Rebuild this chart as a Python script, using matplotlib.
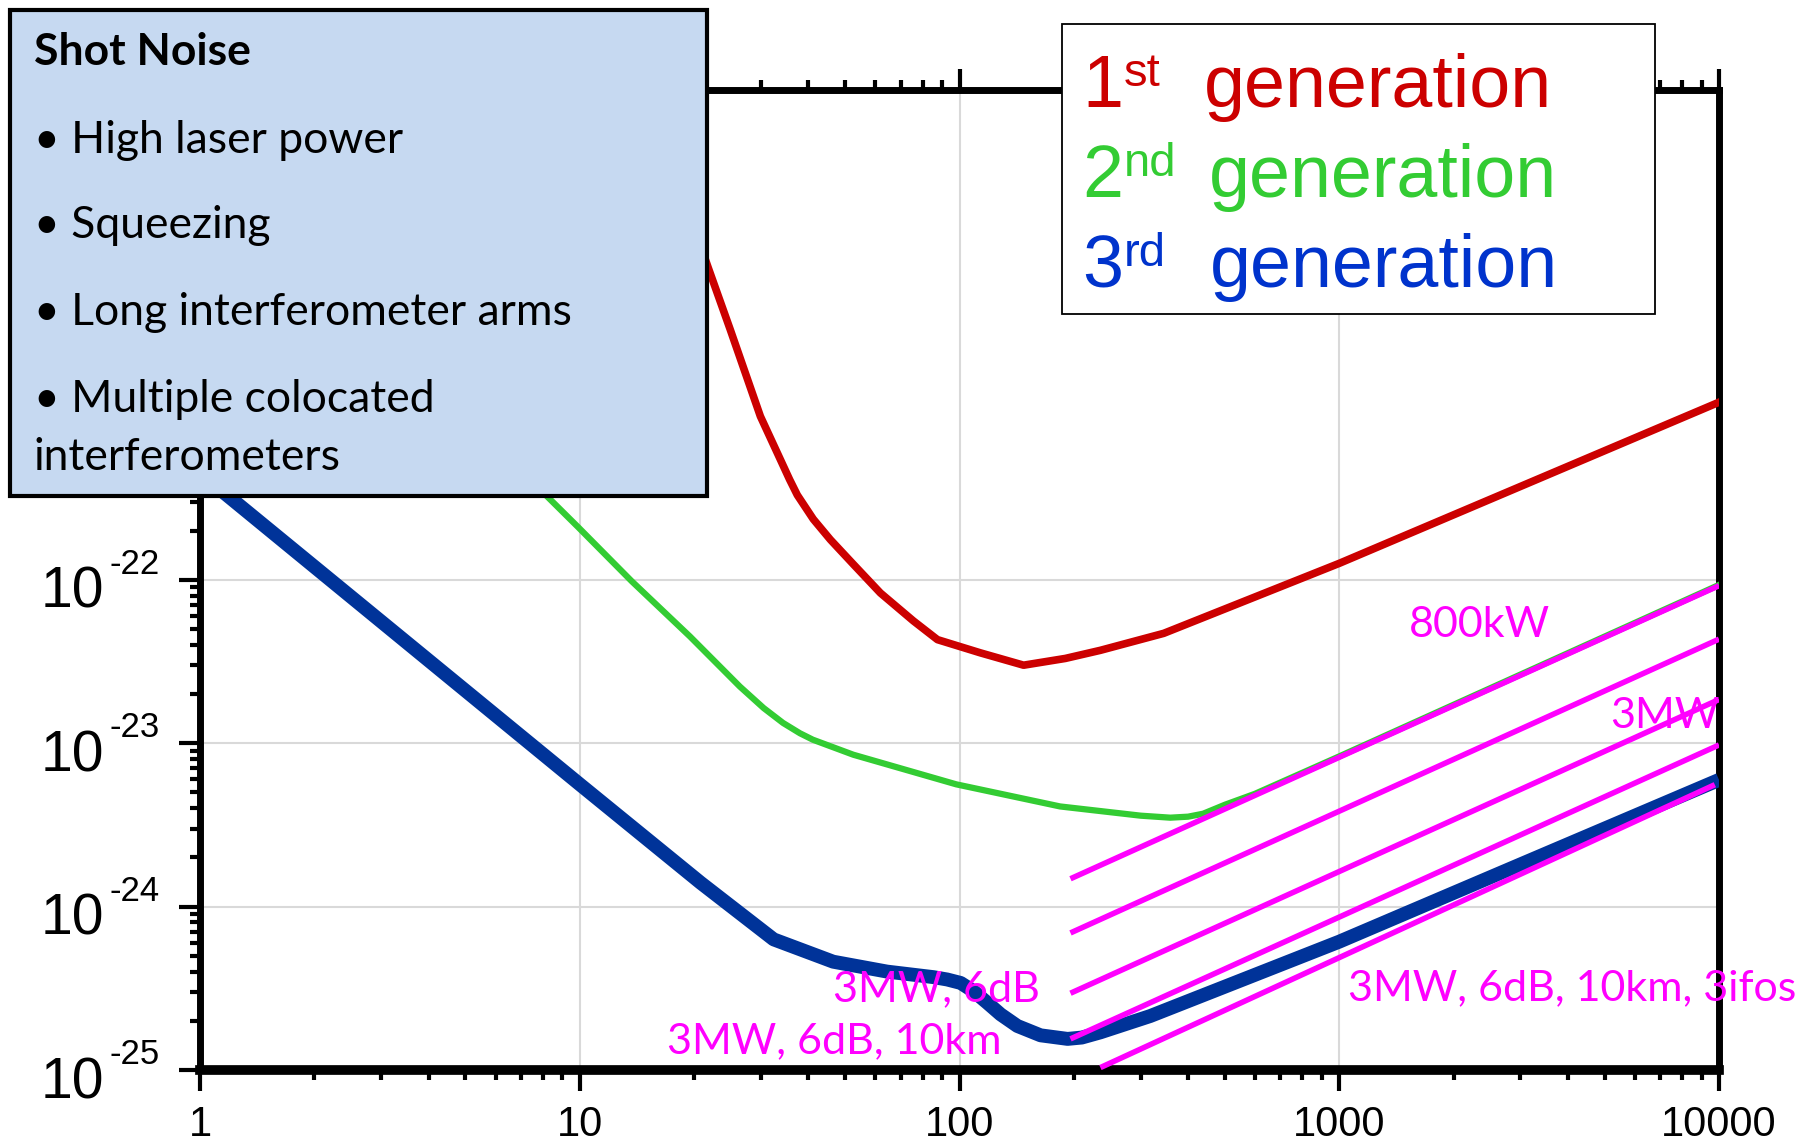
import numpy as np
import matplotlib.pyplot as plt
from matplotlib.patches import Rectangle
from matplotlib.ticker import NullFormatter, LogLocator

plt.rcParams['font.family'] = ['Liberation Sans', 'DejaVu Sans']

# strain sensitivity curves (frequency in Hz, ASD in 1/sqrt(Hz))
f_1st = [15, 21.8, 24.9, 29.9, 33.8, 35.7, 37.4, 41.2, 45.7, 52.6, 61.9, 75.6, 87.5, 113.5, 147.5,
         190, 235, 345, 1000, 10000]
h_1st = [1.0e-19, 8.1e-21, 3.4e-21, 1.0e-21, 5.4e-22, 4.1e-22, 3.3e-22, 2.35e-22, 1.76e-22, 1.24e-22,
         8.3e-23, 5.6e-23, 4.3e-23, 3.57e-23, 3.0e-23, 3.3e-23, 3.7e-23, 4.7e-23, 1.26e-22, 1.22e-21]

f_2nd = [1.0, 8.2, 9.9, 13.7, 19.5, 26.4, 30.5, 34.3, 38, 41.1, 52.5, 98, 184, 300, 359, 400, 438,
         500, 600, 1000, 10000]
h_2nd = [4.0e-20, 3.24e-22, 2.1e-22, 9.8e-23, 4.5e-23, 2.22e-23, 1.64e-23, 1.33e-23, 1.15e-23, 1.05e-23,
         8.5e-24, 5.6e-24, 4.1e-24, 3.6e-24, 3.5e-24, 3.55e-24, 3.7e-24, 4.2e-24, 4.9e-24, 8.3e-24, 9.3e-23]

f_3rd = [1.0, 10, 20.8, 32.4, 46.5, 64.5, 85.4, 92.8, 100.7, 109, 118.3, 128.3, 142, 163.5, 192.6,
         210, 235, 318, 1000, 2880, 10000]
h_3rd = [4.5e-22, 5.6e-24, 1.4e-24, 6.3e-25, 4.6e-25, 4.0e-25, 3.7e-25, 3.58e-25, 3.41e-25, 3.03e-25,
         2.58e-25, 2.19e-25, 1.86e-25, 1.63e-25, 1.55e-25, 1.58e-25, 1.7e-25, 2.14e-25, 6.1e-25,
         1.74e-24, 5.96e-24]

# shot-noise limited lines: (f_start, f_end), (h_start, h_end)
shot_f = [(196, 10000), (196, 10000), (196, 10000), (196, 10000), (235, 9750)]
shot_h = [(1.48e-24, 9.2e-23), (6.9e-25, 4.33e-23), (2.95e-25, 1.85e-23),
          (1.55e-25, 9.75e-24), (1.035e-25, 5.57e-24)]

shot_labels = ["800kW", "3MW", "3MW, 6dB", "3MW, 6dB, 10km", "3MW, 6dB, 10km, 3ifos"]

xticks = [1, 10, 100, 1000, 10000]
xlabels = ["1", "10", "100", "1000", "10000"]
yticks = [1e-25, 1e-24, 1e-23, 1e-22]
yexps = ["-25", "-24", "-23", "-22"]

box_title = "Shot Noise"
box_items = ["\u2022 High laser power", "\u2022 Squeezing", "\u2022 Long interferometer arms",
             "\u2022 Multiple colocated", "interferometers"]

gen_num = ["1", "2", "3"]
gen_sup = ["st", "nd", "rd"]
gen_colors = ["#CC0000", "#33CC33", "#0033CC"]

W, H = 1818, 1147


def px(x, y):
    return x / W, 1 - y / H


fig = plt.figure(figsize=(W / 100, H / 100), dpi=100)
ax = fig.add_axes([200 / W, 1 - 1070 / H, (1719 - 200) / W, (1070 - 89.5) / H])

ax.loglog(f_1st, h_1st, color="#CC0000", lw=5.5, solid_joinstyle='round', zorder=3)
ax.loglog(f_2nd, h_2nd, color="#33CC33", lw=4.5, solid_joinstyle='round', zorder=3)
ax.loglog(f_3rd, h_3rd, color="#003399", lw=10, solid_joinstyle='round', solid_capstyle='butt', zorder=3)
for fs, hs in zip(shot_f, shot_h):
    ax.loglog(fs, hs, color="#FF00FF", lw=4, solid_capstyle='butt', zorder=4)

ax.set_xlim(1, 10000)
ax.set_ylim(1e-25, 1e-19)
ax.set_xticks(xticks)
ax.set_xticklabels(xlabels)
ax.set_yticks(yticks)
ax.xaxis.set_minor_locator(LogLocator(subs=range(2, 10)))
ax.yaxis.set_minor_locator(LogLocator(subs=range(2, 10)))
ax.xaxis.set_minor_formatter(NullFormatter())
ax.yaxis.set_minor_formatter(NullFormatter())

ax.tick_params(which='both', direction='out', top=True, right=False, width=3)
ax.tick_params(which='major', length=15)
ax.tick_params(which='minor', length=7)
ax.tick_params(axis='x', labelsize=30, pad=10)
ax.tick_params(axis='y', labelleft=False)

# y labels: "10" with a small raised exponent
for v, e in zip(yticks, yexps):
    ax.annotate("10", xy=(0, v), xycoords=('axes fraction', 'data'), xytext=(-68.8, -20.2),
                textcoords='offset points', fontsize=41, ha='right', va='baseline',
                annotation_clip=False)
    ax.annotate(e, xy=(0, v), xycoords=('axes fraction', 'data'), xytext=(-65, 4.3),
                textcoords='offset points', fontsize=25, ha='left', va='baseline',
                annotation_clip=False)

ax.grid(True, which='major', color='#D9D9D9', lw=1.5)
ax.set_axisbelow(True)
for side in ['left', 'top', 'right']:
    ax.spines[side].set_linewidth(5)
ax.spines['bottom'].set_linewidth(7)

# labels for the shot noise lines
lab_pos = [(1409, 637), (1610, 728), (833, 1001), (667, 1053), (1348, 1000)]
for lab, (x, y) in zip(shot_labels, lab_pos):
    fig.text(*px(x, y), lab, color="#FF00FF", fontsize=31, family='Lato',
             va='baseline', ha='left', zorder=6)

# shot noise box
fig.add_artist(Rectangle(px(10, 496), 697 / W, 486 / H, transform=fig.transFigure,
                         facecolor="#C6D9F1", edgecolor="black", lw=3, zorder=5))
fig.text(*px(34, 65), box_title, fontsize=32, family='Lato', weight='bold',
         va='baseline', zorder=6)
for item, y in zip(box_items, [153, 238, 325, 412, 470]):
    fig.text(*px(34, y), item, fontsize=32, family='Lato', va='baseline', zorder=6)

# generation legend box
fig.add_artist(Rectangle(px(1062, 314), 593 / W, 290 / H, transform=fig.transFigure,
                         facecolor="white", edgecolor="black", lw=1.3, zorder=5))
for i, (n, s, c) in enumerate(zip(gen_num, gen_sup, gen_colors)):
    yb = 107 + 90 * i
    fig.text(*px(1082, yb), n, fontsize=53, color=c, va='baseline', zorder=6)
    fig.text(*px(1124, yb - 21), s, fontsize=34, color=c, va='baseline', zorder=6)
    fig.text(*px(1204 + 4 * min(i, 1) + i, yb), "generation", fontsize=53, color=c,
             va='baseline', zorder=6)

fig.savefig("out.png", dpi=100)
